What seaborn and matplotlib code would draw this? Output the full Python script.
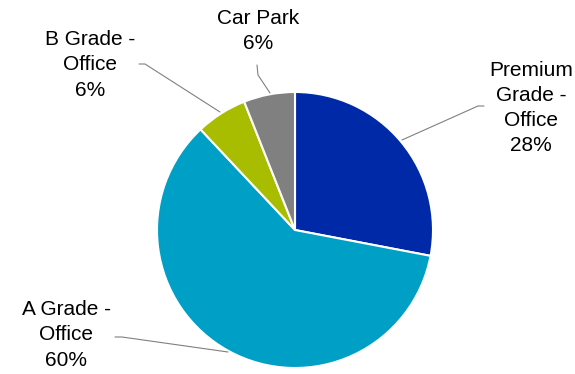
import matplotlib
matplotlib.use("Agg")
import matplotlib.pyplot as plt
import seaborn as sns

sns.set_theme(style="white")
plt.rcParams["font.family"] = ["Liberation Sans", "DejaVu Sans"]

categories = ["Premium\nGrade -\nOffice", "A Grade -\nOffice", "B Grade -\nOffice", "Car Park"]
shares = [28, 60, 6, 6]
colors = ["#0029A8", "#00A0C6", "#A8BD00", "#808080"]

W, H = 575, 374
cx, cy, R = 295, 230, 138  # pie centre and radius in pixels

fig = plt.figure(figsize=(W / 100, H / 100), dpi=100)
ax = fig.add_axes([0, 0, 1, 1])
ax.pie(shares, colors=colors, startangle=90, counterclock=False, radius=1,
       wedgeprops=dict(edgecolor="white", linewidth=1.5))
ax.set_xlim(-cx / R, (W - cx) / R)
ax.set_ylim((cy - H) / R, cy / R)
ax.set_aspect("auto")
ax.axis("off")


def px(x, y):
    return ((x - cx) / R, (cy - y) / R)


# label centre (px), leader polyline (px)
layout = [
    ((531, 108), [(402, 140), (478, 106), (484, 106)]),
    ((66, 335), [(228, 352), (122, 337), (115, 337)]),
    ((90, 65), [(220, 112), (145, 64), (139, 64)]),
    ((258, 31), [(270, 93), (258, 75), (257, 65)]),
]

for cat, val, (pos, line) in zip(categories, shares, layout):
    xs, ys = zip(*[px(*p) for p in line])
    ax.plot(xs, ys, color="#808080", linewidth=0.8)
    ax.text(*px(*pos), f"{cat}\n{val}%", ha="center", va="center",
            fontsize=15, color="#000000", linespacing=1.42)

fig.savefig("out.png", dpi=100)
